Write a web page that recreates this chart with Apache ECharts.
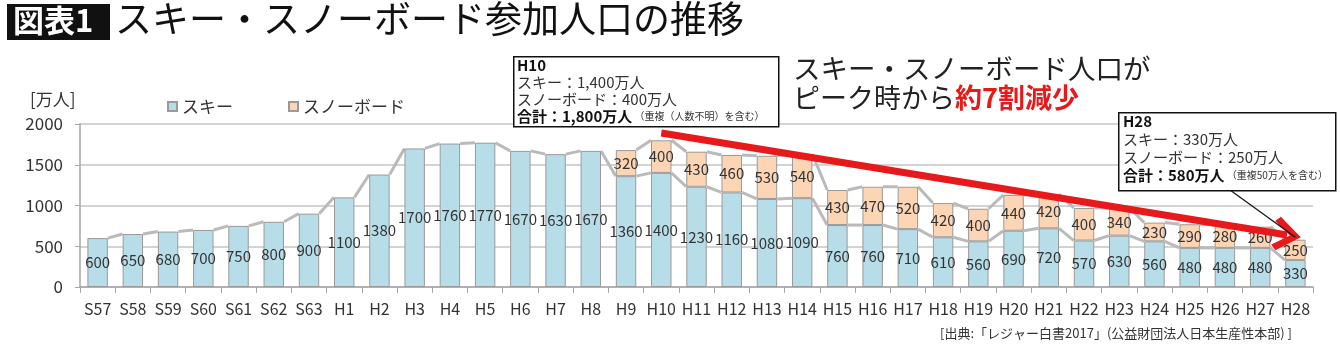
<!DOCTYPE html>
<html><head><meta charset="utf-8">
<script src="https://cdn.jsdelivr.net/npm/echarts@6/dist/echarts.min.js"></script>
<style>html,body{margin:0;padding:0;background:#fff;}#c{width:1340px;height:355px;}</style>
</head><body><div id="c"></div>
<script>
const categories = ['S57','S58','S59','S60','S61','S62','S63','H1','H2','H3','H4','H5','H6','H7','H8','H9','H10','H11','H12','H13','H14','H15','H16','H17','H18','H19','H20','H21','H22','H23','H24','H25','H26','H27','H28'];
const skiValues = [600,650,680,700,750,800,900,1100,1380,1700,1760,1770,1670,1630,1670,1360,1400,1230,1160,1080,1090,760,760,710,610,560,690,720,570,630,560,480,480,480,330];
const snowValues = [null,null,null,null,null,null,null,null,null,null,null,null,null,null,null,320,400,430,460,530,540,430,470,520,420,400,440,420,400,340,230,290,280,260,250];
const yTicks = [0,500,1000,1500,2000];
const seriesNames = ['スキー','スノーボード'];

const FONT = '"Noto Sans CJK JP", "Noto Sans", sans-serif';
const BAR_RATIO = 0.58;
const totals = skiValues.map((v,i)=> snowValues[i]==null ? null : v + snowValues[i]);
function connectors(vals){
  const out=[];
  for(let i=0;i<vals.length-1;i++){
    if(vals[i]!=null && vals[i+1]!=null) out.push([i, vals[i], vals[i+1]]);
  }
  return out;
}
const connData = connectors(skiValues).concat(connectors(totals));
const CHEVRON = 'path://M17,0 L34,23 L29,28 L17,11 L5,28 L0,23 Z';

const chart = echarts.init(document.getElementById('c'), null, {renderer:'canvas'});
const labelStyle = {show:true, position:'inside', color:'#333', fontSize:15, fontFamily:FONT};
chart.setOption({
  animation:false,
  textStyle:{fontFamily:FONT},
  grid:{left:80, right:27, top:124, bottom:68, containLabel:false},
  legend:{
    data:seriesNames, left:162, top:93, icon:'rect', itemWidth:9, itemHeight:9, itemGap:55,
    textStyle:{fontSize:17, color:'#333', fontFamily:FONT}
  },
  xAxis:{
    type:'category', data:categories,
    axisLine:{lineStyle:{color:'#a6a6a6', width:1.5}},
    axisTick:{show:true, length:6, lineStyle:{color:'#a6a6a6'}},
    axisLabel:{fontSize:16, color:'#333', margin:14, interval:0, fontFamily:FONT}
  },
  yAxis:{
    type:'value', min:yTicks[0], max:yTicks[yTicks.length-1], interval:500,
    axisLine:{show:true, lineStyle:{color:'#a6a6a6', width:1.5}},
    axisTick:{show:true, length:5, lineStyle:{color:'#a6a6a6'}},
    splitLine:{lineStyle:{color:'#c4c4c4', width:1.5}},
    axisLabel:{fontSize:17, color:'#333', margin:17, fontFamily:FONT, formatter:function(v){return String(v);}}
  },
  series:[
    {
      name:seriesNames[0], type:'bar', stack:'total', data:skiValues,
      barCategoryGap:'42%',
      itemStyle:{color:'#b7dde8', borderColor:'#9a9a9a', borderWidth:1},
      label:labelStyle, z:3
    },
    {
      name:seriesNames[1], type:'bar', stack:'total', data:snowValues,
      barCategoryGap:'42%',
      itemStyle:{color:'#fcd5b5', borderColor:'#9a9a9a', borderWidth:1},
      label:labelStyle, z:3,
      markLine:{
        silent:true, animation:false, z:10,
        label:{show:false},
        data:[
          [{coord:['H10',1890], symbol:'none', lineStyle:{color:'#e8191b', width:7, type:'solid'}},
           {x:1287, y:235, symbol:CHEVRON, symbolSize:[34,28]}],
          [{x:1230, y:190, symbol:'none', lineStyle:{color:'#111', width:1.2, type:'solid'}},
           {coord:['H28',610], symbol:'none'}]
        ]
      }
    },
    {
      type:'custom', data:connData, encode:{x:0, y:[1,2]}, z:2, silent:true,
      renderItem:function(params, api){
        const i = api.value(0);
        const band = api.size([1,0])[0];
        const hw = band*BAR_RATIO/2;
        const p1 = api.coord([i, api.value(1)]);
        const p2 = api.coord([i+1, api.value(2)]);
        return {type:'line', shape:{x1:p1[0]+hw, y1:p1[1], x2:p2[0]-hw, y2:p2[1]},
          style:{stroke:'#bababa', lineWidth:3}};
      }
    }
  ],
  graphic:[
    {type:'rect', left:7, top:4, shape:{width:103, height:36}, style:{fill:'#111'}},
    {type:'text', left:13, top:5, style:{text:'図表1', fill:'#fff', font:'bold 31px '+FONT}},
    {type:'text', left:115, top:0, style:{text:'スキー・スノーボード参加人口の推移', fill:'#111', font:'37px '+FONT}},
    {type:'text', left:30, top:91, style:{text:'[万人]', fill:'#333', font:'17px '+FONT}},
    {type:'text', left:793, top:55, style:{text:'スキー・スノーボード人口が', fill:'#222', font:'27.5px '+FONT}},
    {type:'text', left:793, top:84, style:{
      text:'{n|ピーク時から}{r|約7割減少}',
      rich:{n:{fill:'#222', font:'27px '+FONT}, r:{fill:'#e8191b', font:'bold 27px '+FONT}}
    }},
    {type:'rect', left:513, top:56, z:20, shape:{width:265, height:70}, style:{fill:'#fff', stroke:'#111', lineWidth:1.5}},
    {type:'text', left:517, top:58, z:21, style:{
      text:'{b|H10}\n{n|スキー：1,400万人}\n{n|スノーボード：400万人}\n{b|合計：1,800万人}{s| （重複（人数不明）を含む）}',
      rich:{b:{font:'bold 15px '+FONT, fill:'#111', lineHeight:17}, n:{font:'15px '+FONT, fill:'#333', lineHeight:17}, s:{font:'10px '+FONT, fill:'#333', lineHeight:17}}
    }},
    {type:'rect', left:1118, top:112, z:20, shape:{width:217, height:78}, style:{fill:'#fff', stroke:'#111', lineWidth:1.5}},
    {type:'text', left:1123, top:114, z:21, style:{
      text:'{b|H28}\n{n|スキー：330万人}\n{n|スノーボード：250万人}\n{b|合計：580万人}{s| （重複50万人を含む）}',
      rich:{b:{font:'bold 15px '+FONT, fill:'#111', lineHeight:18}, n:{font:'15px '+FONT, fill:'#333', lineHeight:18}, s:{font:'10px '+FONT, fill:'#333', lineHeight:18}}
    }},
    {type:'text', right:48, top:327, style:{text:'[出典:「レジャー白書2017」(公益財団法人日本生産性本部) ]', fill:'#333', font:'13px '+FONT}}
  ]
});
</script></body></html>
